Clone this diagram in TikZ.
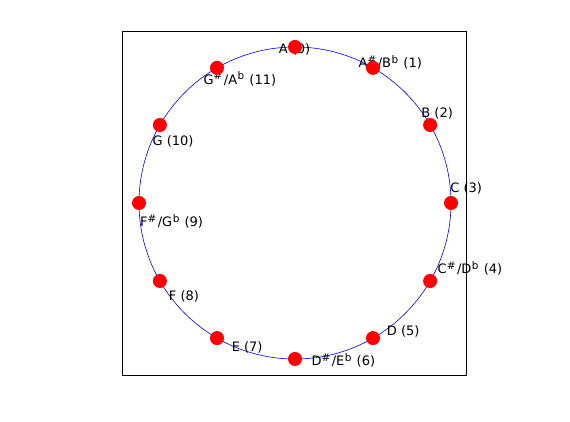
\documentclass[tikz,border=0pt]{standalone}
\usepackage{fontspec}
\setmainfont{DejaVu Sans}
\usetikzlibrary{calc}
\newcommand{\sharpsup}{\raisebox{4.5pt}{\fontsize{10.5}{10}\selectfont\#}\hspace{1.5pt}}
\newcommand{\flatsup}{\hspace{0.5pt}\raisebox{4.5pt}{\fontsize{10.5}{10}\selectfont b}\hspace{1pt}}
\begin{document}
\begin{tikzpicture}[x=1pt,y=1pt,
	note/.style={circle, fill=red, inner sep=0pt, minimum size=14pt},
	notelabel/.style={anchor=west, inner sep=0pt, yshift=-2pt, font=\fontsize{13}{14}\selectfont}]
	\useasboundingbox (0,0) rectangle (570,422);
	\draw[line width=0.8pt] (122,47) rectangle (466,391);
	\coordinate (o) at (295,219);
	\draw[blue, line width=0.6pt] (o) circle (156);
	% labels first, dots on top
	\foreach \k/\txt in {0/{A (0)}, 1/{A\sharpsup/B\flatsup{} (1)}, 2/{B (2)}, 3/{C (3)},
		4/{C\sharpsup/D\flatsup{} (4)}, 5/{D (5)}, 6/{D\sharpsup/E\flatsup{} (6)}, 7/{E (7)},
		8/{F (8)}, 9/{F\sharpsup/G\flatsup{} (9)}, 10/{G (10)}, 11/{G\sharpsup/A\flatsup{} (11)}}
		\node[notelabel] (l\k) at ($(o)+(96-30*\k:156)$) {\txt};
	\foreach \k in {0,...,11}
		\node[note] (n\k) at ($(o)+(90-30*\k:156)$) {};
\end{tikzpicture}
\end{document}
